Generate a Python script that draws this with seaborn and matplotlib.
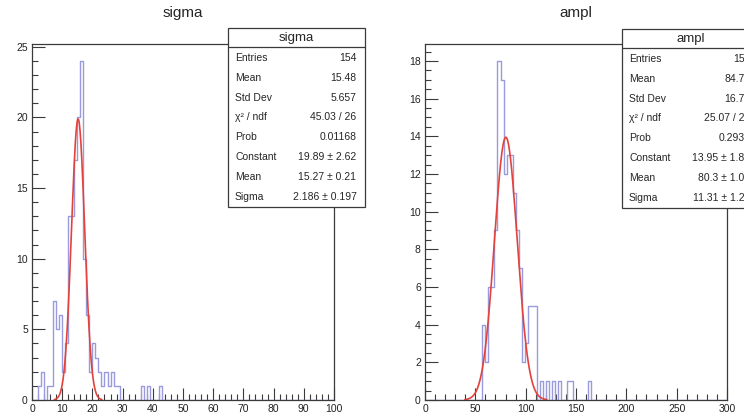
import numpy as np
import pandas as pd
import matplotlib
matplotlib.use("Agg")
import matplotlib.pyplot as plt
from matplotlib.patches import Rectangle
from matplotlib.lines import Line2D
from matplotlib.ticker import MultipleLocator
import seaborn as sns

# ---------------- data ----------------
# sigma histogram: bins of width 1 on [0, 100]
sigma_bin_starts = [2, 3, 5, 6, 7, 8, 9, 10, 11, 12, 13, 14, 15, 16, 17, 18, 19, 20,
                    21, 22, 23, 24, 25, 26, 27, 28, 36, 38, 42]
sigma_counts = [1, 2, 1, 1, 7, 5, 6, 2, 4, 13, 13, 17, 20, 24, 10, 6, 2, 4,
                3, 2, 1, 2, 1, 2, 1, 1, 1, 1, 1]
sigma_fit = {"const": 19.89, "mean": 15.27, "sigma": 2.186}

# ampl histogram: bins of width 3 on [0, 300]
ampl_bin_starts = [57, 60, 63, 66, 69, 72, 75, 78, 81, 84, 87, 90, 93, 96, 99, 102,
                   105, 108, 114, 120, 126, 132, 141, 144, 162]
ampl_counts = [4, 2, 6, 6, 9, 18, 17, 12, 13, 13, 11, 9, 7, 2, 3, 5,
               5, 5, 1, 1, 1, 1, 1, 1, 1]
ampl_fit = {"const": 13.95, "mean": 80.3, "sigma": 11.31}

stat_labels = ["Entries", "Mean", "Std Dev", "\u03c7\u00b2 / ndf", "Prob",
               "Constant", "Mean", "Sigma"]
sigma_stat_values = ["154", "15.48", "5.657", "45.03 / 26", "0.01168",
                     "19.89 \u00b1 2.62", "15.27 \u00b1 0.21", "2.186 \u00b1 0.197"]
ampl_stat_values = ["154", "84.71", "16.72", "25.07 / 22", "0.2934",
                    "13.95 \u00b1 1.82", "80.3 \u00b1 1.06", "11.31 \u00b1 1.21"]

# ---------------- style ----------------
sns.set_style("white")
plt.rcParams["font.family"] = ["Liberation Sans", "DejaVu Sans"]

W, H = 744, 416
fig = plt.figure(figsize=(W / 100, H / 100), dpi=100)

HIST_COLOR = "#9a9ade"
FIT_COLOR = "#e3423c"
FRAME_COLOR = "#3a3a3a"


def px_rect(x0, y0, w, h):
    return [x0 / W, 1 - (y0 + h) / H, w / W, h / H]


def draw_panel(rect, starts, counts, width, xmax, fit, ymax, xmaj, xmin_, ymaj, ymin_):
    ax = fig.add_axes(rect)
    centers = np.array(starts, dtype=float) + width / 2
    df = pd.DataFrame({"x": centers, "n": np.array(counts, dtype=float)})
    sns.histplot(data=df, x="x", weights="n", binwidth=width, binrange=(0, xmax),
                 element="step", fill=False, color=HIST_COLOR, linewidth=1.0, ax=ax)
    mu, s, c = fit["mean"], fit["sigma"], fit["const"]
    xs = np.linspace(mu - 3.6 * s, mu + 3.6 * s, 300)
    ys = c * np.exp(-0.5 * ((xs - mu) / s) ** 2)
    sns.lineplot(x=xs, y=ys, color=FIT_COLOR, linewidth=1.2, ax=ax,
                 estimator=None, sort=False)
    ax.set_xlim(0, xmax)
    ax.set_ylim(0, ymax)
    ax.set_xlabel("")
    ax.set_ylabel("")
    ax.xaxis.set_major_locator(MultipleLocator(xmaj))
    ax.xaxis.set_minor_locator(MultipleLocator(xmin_))
    ax.yaxis.set_major_locator(MultipleLocator(ymaj))
    ax.yaxis.set_minor_locator(MultipleLocator(ymin_))
    ax.tick_params(which="both", direction="in", top=False, right=False,
                   bottom=True, left=True, color=FRAME_COLOR, width=0.8)
    ax.tick_params(which="major", length=9, labelsize=7.5, pad=3,
                   labelcolor="#222222")
    ax.tick_params(which="minor", length=4.5)
    for sp in ax.spines.values():
        sp.set_color(FRAME_COLOR)
        sp.set_linewidth(0.9)
    return ax


ax1 = draw_panel(px_rect(32, 44, 302, 356), sigma_bin_starts, sigma_counts, 1, 100,
                 sigma_fit, 25.2, 10, 2, 5, 1)
ax2 = draw_panel(px_rect(425, 44, 302, 356), ampl_bin_starts, ampl_counts, 3, 300,
                 ampl_fit, 18.9, 50, 10, 2, 0.5)

fig.text(183 / W, 1 - 13 / H, "sigma", ha="center", va="center", fontsize=11)
fig.text(576 / W, 1 - 13 / H, "ampl", ha="center", va="center", fontsize=11)


def stat_box(x0, y0, title, values):
    w, h = 137, 179
    fig.add_artist(Rectangle((x0 / W, 1 - (y0 + h) / H), w / W, h / H,
                             transform=fig.transFigure, facecolor="white",
                             edgecolor=FRAME_COLOR, linewidth=0.9, zorder=5))
    fig.add_artist(Line2D([x0 / W, (x0 + w) / W], [1 - (y0 + 18.5) / H] * 2,
                          transform=fig.transFigure, color=FRAME_COLOR,
                          linewidth=0.9, zorder=6))
    fig.text((x0 + w / 2) / W, 1 - (y0 + 10) / H, title, ha="center", va="center",
             fontsize=9.5, zorder=7)
    for i, (lab, val) in enumerate(zip(stat_labels, values)):
        yy = 1 - (y0 + 30 + 19.8 * i) / H
        fig.text((x0 + 7) / W, yy, lab, ha="left", va="center", fontsize=7.5, zorder=7)
        fig.text((x0 + w - 8.5) / W, yy, val, ha="right", va="center", fontsize=7.5,
                 zorder=7)


stat_box(228, 28, "sigma", sigma_stat_values)
stat_box(622, 29, "ampl", ampl_stat_values)

fig.savefig("out.png", dpi=100)
